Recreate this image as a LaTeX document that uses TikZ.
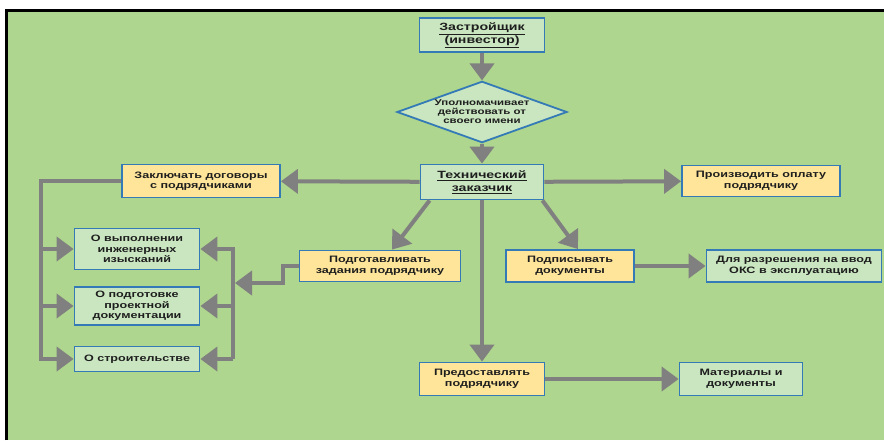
\documentclass[tikz,border=0pt]{standalone}
\usepackage{fontspec}
\setmainfont[FakeStretch=1.35]{Liberation Sans}
\usetikzlibrary{positioning}
\usetikzlibrary{shapes.geometric}
\usetikzlibrary{arrows.meta}
\definecolor{fon}{RGB}{174,214,142}
\definecolor{svetlo}{RGB}{201,230,192}
\definecolor{zhelt}{RGB}{255,229,153}
\definecolor{rama}{RGB}{52,122,182}
\definecolor{strelka}{RGB}{128,128,128}
\definecolor{tekst}{RGB}{30,30,30}

\begin{document}
\begin{tikzpicture}
	[x=1pt,y=-1pt,>={Triangle[length=17pt,width=24pt]},
	font=\bfseries\fontsize{9.3}{10.5}\selectfont,text=tekst,
	zel/.style={rectangle,draw=rama,fill=svetlo,line width=1.8pt,align=center,inner sep=1pt},
	zhel/.style={rectangle,draw=rama,fill=zhelt,line width=1.8pt,align=center,inner sep=1pt},
	romb/.style={diamond,aspect=2.77,draw=rama,fill=svetlo,line width=1.8pt,align=center,inner sep=1.2pt,
		font=\bfseries\fontsize{8.5}{9}\selectfont},
	glav/.style={font=\bfseries\fontsize{10.5}{13}\selectfont},
	strel/.style={draw=strelka,line width=4pt}]
	\useasboundingbox (0,0) rectangle (884,440);
	\fill[fon] (6,10) rectangle (884,440);
	\draw[line width=3pt] (6,440) -- (6,10) -- (884,10);
	\node at (482,35) [zel,glav,minimum width=125pt,minimum height=34pt] (zastr) {\underline{Застройщик}\\\underline{(инвестор)}};
	\node at (482,112) [romb] (upoln) {Уполномачивает\\действовать от\\своего имени};
	\node at (482,182) [zel,glav,minimum width=123pt,minimum height=35pt] (tech) {\underline{Технический}\\\underline{заказчик}};
	\node at (201,181) [zhel,minimum width=158pt,minimum height=33pt] (zakl) {Заключать договоры\\с подрядчиками};
	\node at (761,181) [zhel,minimum width=158pt,minimum height=31pt] (oplata) {Производить оплату\\подрядчику};
	\node at (380,266) [zhel,minimum width=161pt,minimum height=31pt] (podgot) {Подготавливать\\задания подрядчику};
	\node at (570,266) [zhel,minimum width=128pt,minimum height=32pt] (podpis) {Подписывать\\документы};
	\node at (794,266) [zel,minimum width=175pt,minimum height=32pt] (razresh) {Для разрешения на ввод\\ОКС в эксплуатацию};
	\node at (482,379) [zhel,minimum width=125pt,minimum height=33pt] (predost) {Предоставлять\\подрядчику};
	\node at (741,379) [zel,minimum width=123pt,minimum height=33pt] (mater) {Материалы и\\документы};
	\node at (137,249) [zel,minimum width=125pt,minimum height=41pt] (izysk) {О выполнении\\инженерных\\изысканий};
	\node at (137,306) [zel,minimum width=125pt,minimum height=38pt] (proekt) {О подготовке\\проектной\\документации};
	\node at (137,359) [zel,minimum width=125pt,minimum height=25pt] (stroi) {О строительстве};
	\coordinate (lbar) at (41,359);
	\coordinate (rbar) at (233,359);
	\coordinate (izlom) at (283,283);
	\draw[strel,->] (zastr) -- (upoln);
	\draw[strel,->] (upoln) -- (tech);
	\draw[strel,->] (tech) -- (zakl);
	\draw[strel,->] (tech) -- (oplata);
	\draw[strel,->] ([xshift=10pt]tech.south west) -- ([xshift=12pt]podgot.north);
	\draw[strel,->] ([xshift=-2pt]tech.south east) -- ([xshift=8pt]podpis.north);
	\draw[strel,->] (tech) -- (predost);
	\draw[strel,->] (podpis) -- (razresh);
	\draw[strel,->] (predost) -- (mater);
	\draw[strel,->] (zakl.west) -| (lbar) -- (stroi.west);
	\draw[strel,->] (lbar |- izysk.west) -- (izysk.west);
	\draw[strel,->] (lbar |- proekt.west) -- (proekt.west);
	\draw[strel,->] (rbar) |- (izysk.east);
	\draw[strel,->] (rbar) -- (stroi.east);
	\draw[strel,->] (rbar |- proekt.east) -- (proekt.east);
	\draw[strel,->] (podgot.west) -| (izlom) -- ([xshift=2pt]izlom -| rbar);
\end{tikzpicture}
\end{document}
